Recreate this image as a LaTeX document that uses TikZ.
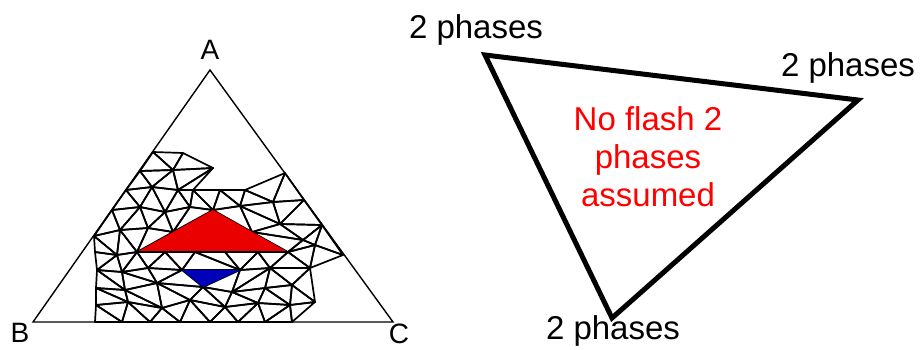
\documentclass[tikz,border=0pt]{standalone}
\usepackage{fontspec}
\setmainfont{Liberation Sans}
\begin{document}
\begin{tikzpicture}[x=1pt,y=-1pt,
  mesh/.style={draw=black,line width=1.7pt,line join=round},
  frame/.style={draw=black,line width=1.4pt},
  lab/.style={inner sep=0pt,font=\fontsize{28}{30}\selectfont},
  phase/.style={inner sep=0pt,font=\fontsize{33}{36}\selectfont},
  redtxt/.style={inner sep=0pt,text=red,align=center,font=\fontsize{33}{38}\selectfont}]
\useasboundingbox (0,0) rectangle (921,349);
% big triangle
\coordinate (A) at (210,70);
\coordinate (B) at (33,322);
\coordinate (C) at (393,322);
% mesh points
\coordinate (a1) at (153,152); \coordinate (a2) at (183,153);
\coordinate (b1) at (140,171); \coordinate (b2) at (173,170); \coordinate (b3) at (213,168);
\coordinate (c1) at (126,190); \coordinate (c2) at (152,187); \coordinate (c3) at (178,190);
\coordinate (c4) at (193,190); \coordinate (c5) at (220,190); \coordinate (c6) at (245,190);
\coordinate (c8) at (285,173);
\coordinate (d1) at (112,210); \coordinate (d2) at (140,207); \coordinate (d3) at (165,212);
\coordinate (d4) at (190,207); \coordinate (d5) at (213,210); \coordinate (d6) at (240,206);
\coordinate (d7) at (273,202); \coordinate (d8) at (304,200);
\coordinate (e1) at (94,236); \coordinate (e2) at (120,230); \coordinate (e3) at (148,228);
\coordinate (e4) at (173,232); \coordinate (e5) at (252,232); \coordinate (e6) at (280,224);
\coordinate (e7) at (303,240); \coordinate (e8) at (322,225);
\coordinate (f1) at (95,252); \coordinate (f2) at (117,255); \coordinate (f3) at (137,252);
\coordinate (f4) at (165,252); \coordinate (f5) at (195,252); \coordinate (f6) at (225,252);
\coordinate (f7) at (258,252); \coordinate (f8) at (288,252); \coordinate (f9) at (315,245);
\coordinate (f10) at (343,255);
\coordinate (g1) at (97,270); \coordinate (g2) at (122,272); \coordinate (g3) at (148,268);
\coordinate (g4) at (182,270); \coordinate (g5) at (240,270); \coordinate (g6) at (270,268);
\coordinate (g7) at (310,268);
\coordinate (h1) at (96,288); \coordinate (h2) at (125,290); \coordinate (h3) at (157,283);
\coordinate (h4) at (203,287); \coordinate (h5) at (232,292); \coordinate (h6) at (265,288);
\coordinate (h7) at (292,285);
\coordinate (i1) at (96,305); \coordinate (i2) at (128,302); \coordinate (i3) at (162,308);
\coordinate (i4) at (190,300); \coordinate (i5) at (225,307); \coordinate (i6) at (258,303);
\coordinate (i7) at (290,305); \coordinate (i8) at (315,302);
\coordinate (j1) at (95,322); \coordinate (j2) at (122,322); \coordinate (j3) at (150,322);
\coordinate (j4) at (180,322); \coordinate (j5) at (210,322); \coordinate (j6) at (238,322);
\coordinate (j7) at (265,322); \coordinate (j8) at (292,322);
% mesh triangles
\foreach \p/\q/\r in {a1/a2/b2, a1/b1/b2, a2/b2/b3, b1/c1/c2, b1/b2/c2, b2/c2/c3, b2/b3/c3, b3/c3/c4,
  c1/d1/d2, c1/c2/d2, c2/d2/d3, c2/c3/d3, c3/d3/d4, c3/c4/d4, c4/d4/d5, c4/c5/d5, c5/d5/d6,
  c5/c6/d6, c6/d6/d7, c6/c8/d7, c8/d7/d8,
  d1/e1/e2, d1/d2/e2, d2/e2/e3, d2/d3/e3, d3/e3/e4, d3/d4/e4, d4/d5/e4,
  d5/d6/e5, d6/e5/e6, d6/d7/e6, d7/d8/e6, d8/e6/e8, e6/e7/e8, e5/e6/e7,
  e1/f1/f2, e1/e2/f2, e2/f2/f3, e2/e3/f3, e3/e4/f3,
  e5/e7/f8, e7/f8/f9, e7/e8/f9, e8/f9/f10,
  f1/f2/g1, f2/g1/g2, f2/f3/g2, f3/g2/g3, f3/f4/g3, f4/g3/g4, f4/f5/g4, f5/g4/g5,
  f5/f6/g5, f6/f7/g5, f7/g5/g6, f7/f8/g6, f8/g6/g7, f8/f9/g7, f9/f10/g7,
  g1/h1/h2, g1/g2/h2, g2/h2/h3, g2/g3/h3, g3/g4/h3, g4/h3/h4, g5/h4/h5, g5/g6/h5,
  g6/h5/h6, g6/h6/h7, g6/g7/h7,
  h1/i1/i2, h1/h2/i2, h2/i2/i3, h2/h3/i3, h3/i3/i4, h3/h4/i4, h4/i4/i5, h4/h5/i5,
  h5/i5/i6, h5/h6/i6, h6/i6/i7, h6/h7/i7, h7/i7/i8, g7/h7/i8,
  i1/j1/j2, i1/i2/j2, i2/j2/j3, i2/i3/j3, i3/j3/j4, i3/i4/j4, i4/j4/j5, i4/i5/j5,
  i5/j5/j6, i5/i6/j6, i6/j6/j7, i6/i7/j7, i7/j7/j8, i7/i8/j8}
  \draw[mesh] (\p)--(\q)--(\r)--cycle;
% red and blue triangles
\fill[fill={rgb,255:red,235;green,0;blue,0}] (d5)--(f3)--(f8)--cycle;
\fill[fill={rgb,255:red,0;green,0;blue,185}] (g4)--(g5)--(h4)--cycle;
\draw[mesh] (f3)--(f8);
% outer triangle
\draw[frame,line join=miter] (A)--(B)--(C)--cycle;
\node[lab] (labA) at (210,50) {A};
\node[lab] (labB) at (20,333) {B};
\node[lab] (labC) at (399,334) {C};
% right panel
\coordinate (P) at (485,55);
\coordinate (Q) at (858,100);
\coordinate (R) at (612,318);
\draw[line width=5pt,line join=miter] (P)--(Q)--(R)--cycle;
\node[phase] (p1) at (476,30) {2 phases};
\node[phase] (p2) at (848,68) {2 phases};
\node[phase] (p3) at (613,331) {2 phases};
\node[redtxt] (nf) at (648,157) {No flash 2\\phases\\assumed};
\end{tikzpicture}
\end{document}
